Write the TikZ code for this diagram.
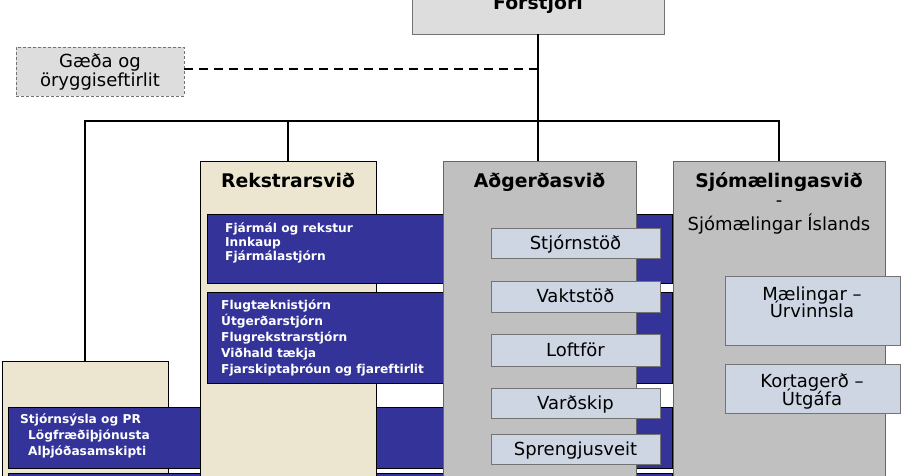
\documentclass[tikz,border=0pt]{standalone}
\usepackage{fontspec}
\setmainfont{DejaVu Sans}
\definecolor{beigec}{HTML}{ECE6D0}
\definecolor{grayc}{HTML}{C0C0C0}
\definecolor{lightg}{HTML}{DDDDDD}
\definecolor{bluec}{HTML}{333399}
\definecolor{smallc}{HTML}{CED6E3}
\begin{document}
\begin{tikzpicture}[x=1pt,y=-1pt,
  boxbase/.style={inner sep=0pt, outer sep=0pt, anchor=north west},
  beigebox/.style={boxbase, draw=black, line width=0.9pt, fill=beigec},
  graybox/.style={boxbase, draw=gray!80!black, line width=0.9pt, fill=grayc},
  topbox/.style={boxbase, draw=gray!90!black, line width=0.9pt, fill=lightg},
  bluebar/.style={boxbase, draw=black, line width=0.9pt, fill=bluec},
  smallbox/.style={boxbase, draw=gray!90!black, line width=0.9pt, fill=smallc},
  conn/.style={line width=2pt, black},
  dashconn/.style={line width=2pt, black, dash pattern=on 9pt off 6pt},
  btxt/.style={anchor=base west, inner sep=0pt, text=white, font=\fontsize{12.2}{14}\selectfont\bfseries},
  title/.style={anchor=base, inner sep=0pt, font=\fontsize{18.8}{21}\selectfont\bfseries},
  rtxt/.style={anchor=base, inner sep=0pt, font=\fontsize{18}{20}\selectfont}
]
\useasboundingbox (0,0) rectangle (902,476);
\clip (0,0) rectangle (902,476);
\fill[white] (0,0) rectangle (902,476);

% top boxes
\node[topbox, minimum width=252, minimum height=60] (forst) at (412,-26) {};
\node[topbox, dashed, dash pattern=on 3pt off 2pt, minimum width=168, minimum height=49] (gaeda) at (16,47) {};
\node[title] (forstt) at (538,10) {Forstjóri};
\node[rtxt] (gaeda1) at (100,68) {Gæða og};
\node[rtxt] (gaeda2) at (100,87) {öryggiseftirlit};

% division boxes
\node[beigebox, minimum width=166, minimum height=140] (leftbox) at (2,361) {};
\node[bluebar, minimum width=664, minimum height=61] (bar3) at (8,407) {};
\node[bluebar, minimum width=664, minimum height=40] (bar4) at (8,473) {};
\node[beigebox, minimum width=176, minimum height=340] (rek) at (200,161) {};
\node[bluebar, minimum width=465, minimum height=69] (bar1) at (207,214) {};
\node[bluebar, minimum width=465, minimum height=91] (bar2) at (207,292) {};
\node[graybox, minimum width=193, minimum height=340] (agd) at (443,161) {};
\node[graybox, minimum width=212, minimum height=340] (sjo) at (673,161) {};

% connectors
\coordinate (hub) at (538,121);
\draw[conn] (forst.south) -- (forst.south |- agd.north);
\draw[conn] (leftbox.north) -- (leftbox.north |- hub) -- (sjo.north |- hub) -- (sjo.north);
\draw[conn] (rek.north) -- (rek.north |- hub);
\draw[dashconn] (gaeda.east |- 0,69) -- (forst.south |- 0,69);

% titles
\node[title] (rekt) at (288,187) {Rekstrarsvið};
\node[title] (agdt) at (539.5,187) {Aðgerðasvið};
\node[title] (sjot) at (779,187) {Sjómælingasvið};
\node[rtxt] (sjod) at (779,206) {-};
\node[rtxt] (sjos) at (779,230) {Sjómælingar Íslands};

% blue bar texts
\node[btxt] (b1a) at (225,232) {Fjármál og rekstur};
\node[btxt] (b1b) at (225,246) {Innkaup};
\node[btxt] (b1c) at (225,260) {Fjármálastjórn};
\node[btxt] (b2a) at (221,309) {Flugtæknistjórn};
\node[btxt] (b2b) at (221,325) {Útgerðarstjórn};
\node[btxt] (b2c) at (221,341) {Flugrekstrarstjórn};
\node[btxt] (b2d) at (221,357) {Viðhald tækja};
\node[btxt] (b2e) at (221,373) {Fjarskiptaþróun og fjareftirlit};
\node[btxt] (b3a) at (20,423) {Stjórnsýsla og PR};
\node[btxt] (b3b) at (28,439) {Lögfræðiþjónusta};
\node[btxt] (b3c) at (28,455) {Alþjóðasamskipti};

% small boxes in Aðgerðasvið
\node[smallbox, minimum width=169, minimum height=30] (s1) at (491,228) {};
\node[smallbox, minimum width=169, minimum height=31] (s2) at (491,281) {};
\node[smallbox, minimum width=169, minimum height=32] (s3) at (491,334) {};
\node[smallbox, minimum width=169, minimum height=30] (s4) at (491,388) {};
\node[smallbox, minimum width=169, minimum height=30] (s5) at (491,434) {};
\node[rtxt] (s1t) at (s1.center) [yshift=-6pt] {Stjórnstöð};
\node[rtxt] (s2t) at (s2.center) [yshift=-6pt] {Vaktstöð};
\node[rtxt] (s3t) at (s3.center) [yshift=-6pt] {Loftför};
\node[rtxt] (s4t) at (s4.center) [yshift=-6pt] {Varðskip};
\node[rtxt] (s5t) at (s5.center) [yshift=-6pt] {Sprengjusveit};

% small boxes in Sjómælingasvið
\node[smallbox, minimum width=175, minimum height=69] (m1) at (725,276) {};
\node[smallbox, minimum width=175, minimum height=49] (m2) at (725,364) {};
\node[rtxt] (m1a) at (812,300) {Mælingar –};
\node[rtxt] (m1b) at (812,317) {Úrvinnsla};
\node[rtxt] (m2a) at (812,387) {Kortagerð –};
\node[rtxt] (m2b) at (812,405) {Útgáfa};
\end{tikzpicture}
\end{document}
